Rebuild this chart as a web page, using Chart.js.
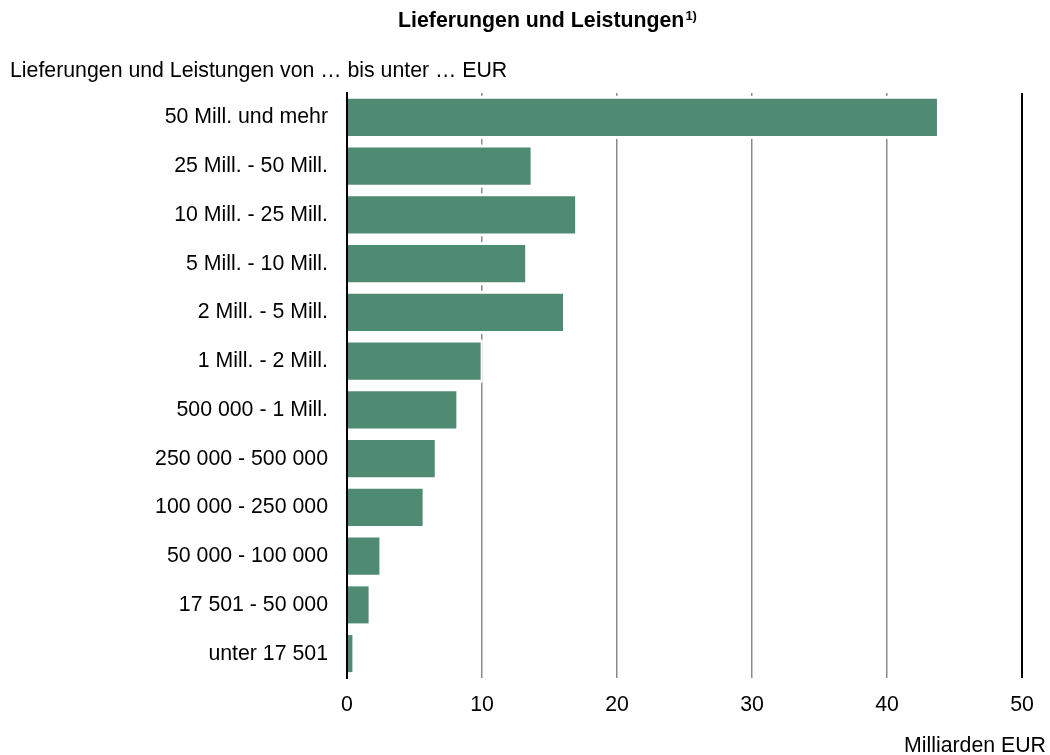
<!DOCTYPE html>
<html>
<head>
<meta charset="utf-8">
<script src="https://cdn.jsdelivr.net/npm/chart.js@4"></script>
<style>
  html, body { margin: 0; padding: 0; background: #fff; }
  #wrap { width: 1050px; height: 755px; position: relative; }
</style>
</head>
<body>
<div id="wrap"><canvas id="chart"></canvas></div>
<script>
const categories = ['50 Mill. und mehr', '25 Mill. - 50 Mill.', '10 Mill. - 25 Mill.', '5 Mill. - 10 Mill.',
    '2 Mill. - 5 Mill.', '1 Mill. - 2 Mill.', '500 000 - 1 Mill.', '250 000 - 500 000',
    '100 000 - 250 000', '50 000 - 100 000', '17 501 - 50 000', 'unter 17 501'];
const values = [43.7, 13.6, 16.9, 13.2, 16.0, 9.9, 8.1, 6.5, 5.6, 2.4, 1.6, 0.4];
const xTicks = [0, 10, 20, 30, 40, 50];

const FONT = "'Liberation Sans', Arial, sans-serif";
const SIZE = 21.3;

// titles and unit label
const textPlugin = {
    id: 'texts',
    afterDraw(chart) {
        const ctx = chart.ctx;
        ctx.save();
        ctx.fillStyle = '#000';
        ctx.textBaseline = 'alphabetic';
        const main = 'Lieferungen und Leistungen';
        ctx.font = 'bold ' + SIZE + 'px ' + FONT;
        const w1 = ctx.measureText(main).width;
        ctx.font = 'bold 13px ' + FONT;
        const w2 = ctx.measureText('1)').width;
        const x0 = 547 - (w1 + w2) / 2;
        ctx.font = 'bold ' + SIZE + 'px ' + FONT;
        ctx.textAlign = 'left';
        ctx.fillText(main, x0, 27);
        ctx.font = 'bold 13px ' + FONT;
        ctx.fillText('1)', x0 + w1 + 1, 20);

        ctx.font = SIZE + 'px ' + FONT;
        ctx.fillText('Lieferungen und Leistungen von … bis unter … EUR', 10, 77);
        ctx.textAlign = 'right';
        ctx.fillText('Milliarden EUR', 1046, 752);
        ctx.restore();
    }
};

// white halo round the bars so the grid stops short of them
const haloPlugin = {
    id: 'halo',
    beforeDatasetsDraw(chart) {
        const ctx = chart.ctx;
        ctx.save();
        ctx.fillStyle = '#fff';
        chart.getDatasetMeta(0).data.forEach(bar => {
            const p = bar.getProps(['x', 'y', 'base', 'height'], true);
            ctx.fillRect(p.base, p.y - p.height / 2 - 3, p.x - p.base + 2, p.height + 6);
        });
        ctx.restore();
    }
};

new Chart(document.getElementById('chart'), {
    type: 'bar',
    data: {
        labels: categories,
        datasets: [{
            data: values,
            backgroundColor: '#4f8b72',
            borderWidth: 0,
            barPercentage: 0.76,
            categoryPercentage: 1
        }]
    },
    plugins: [haloPlugin, textPlugin],
    options: {
        indexAxis: 'y',
        responsive: true,
        maintainAspectRatio: false,
        animation: false,
        layout: { padding: { top: 93, right: 28, left: 0, bottom: 0 } },
        plugins: {
            legend: { display: false },
            tooltip: { enabled: false },
            title: { display: false }
        },
        scales: {
            x: {
                min: 0,
                max: 50,
                afterBuildTicks(scale) {
                    scale.ticks = xTicks.map(v => ({ value: v }));
                },
                afterFit(scale) { scale.height = 77; },
                grid: {
                    drawTicks: false,
                    color: ctx => (ctx.tick && ctx.tick.value === 50) ? '#000' : '#8a8a8a',
                    lineWidth: ctx => (ctx.tick && ctx.tick.value === 50) ? 2 : 1.5
                },
                border: { display: false },
                ticks: {
                    padding: 14,
                    color: '#000',
                    font: { family: FONT, size: SIZE }
                }
            },
            y: {
                afterFit(scale) { scale.width = 347; },
                grid: { display: false, drawTicks: false },
                border: { display: true, color: '#000', width: 2, z: 1 },
                ticks: {
                    padding: 19,
                    color: '#000',
                    font: { family: FONT, size: SIZE }
                }
            }
        }
    }
});
</script>
</body>
</html>
